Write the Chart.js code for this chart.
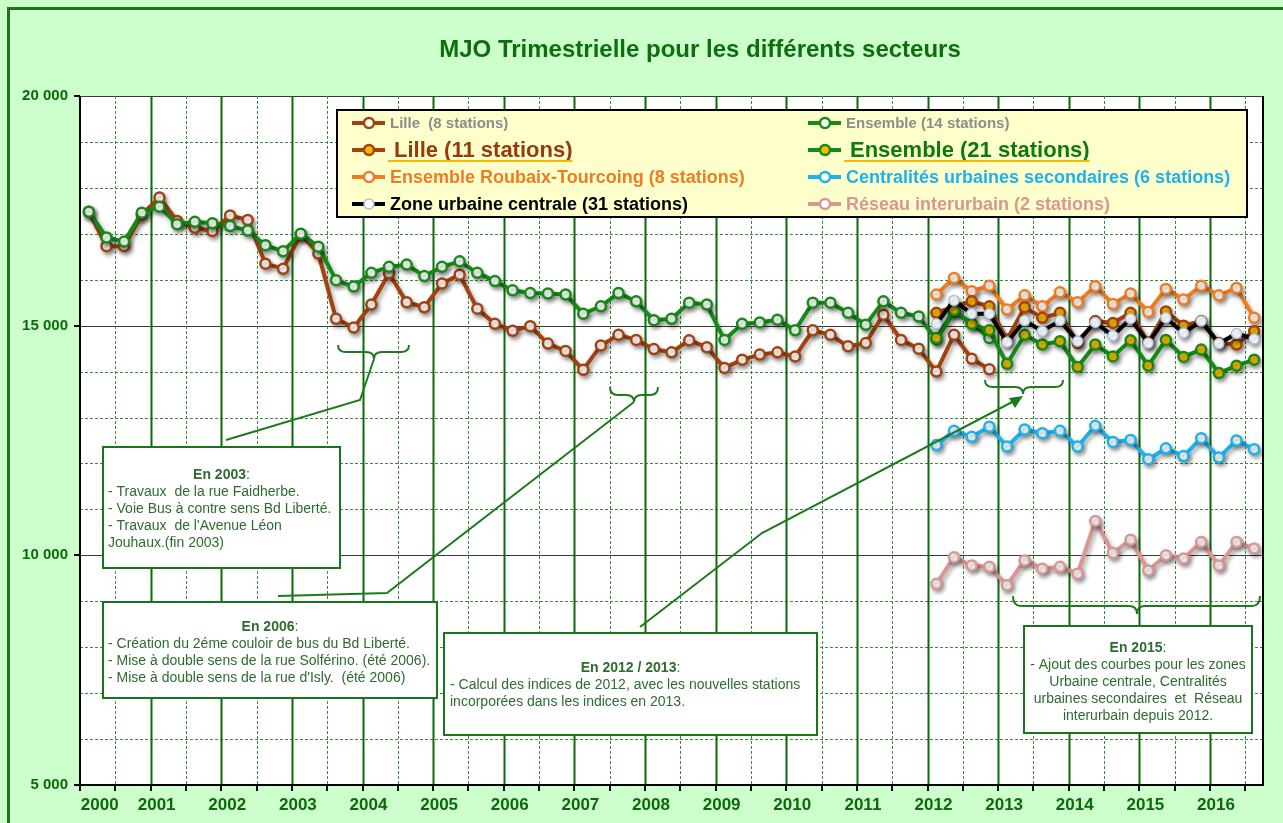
<!DOCTYPE html>
<html>
<head>
<meta charset="utf-8">
<title>MJO Trimestrielle</title>
<script src="https://cdn.jsdelivr.net/npm/chart.js@4.4.1/dist/chart.umd.min.js"></script>
<style>
  html, body { margin: 0; padding: 0; background: #CCFFCC; overflow: hidden; }
  #wrap { width: 1283px; height: 823px; }
</style>
</head>
<body>
<div id="wrap"><canvas id="mjoChart" width="1283" height="823"></canvas></div>
<script>
// quarterly values, first value = T1 of the start year
const yearLabels = [2000, 2001, 2002, 2003, 2004, 2005, 2006, 2007, 2008, 2009, 2010, 2011, 2012, 2013, 2014, 2015, 2016];
const yTickValues = [5000, 10000, 15000, 20000];

const startOld = 2000;
const lille8 = [17480, 16730, 16730, 17420, 17790, 17280, 17130, 17060, 17400, 17300,
                16350, 16240, 16990, 16570, 15150, 14960, 15460, 16140, 15510, 15400,
                15920, 16110, 15370, 15040, 14890, 14990, 14610, 14450, 14040, 14570,
                14800, 14690, 14490, 14420, 14680, 14530, 14080, 14260, 14370, 14420,
                14330, 14900, 14800, 14550, 14620, 15240, 14690, 14500, 14000, 14800,
                14280, 14050];
const ensemble14 = [17480, 16920, 16830, 17460, 17590, 17210, 17260, 17230, 17170, 17070,
                    16750, 16620, 17000, 16720, 15990, 15850, 16150, 16280, 16330, 16080,
                    16280, 16400, 16150, 15970, 15770, 15710, 15700, 15680, 15260, 15420,
                    15710, 15530, 15120, 15150, 15500, 15460, 14690, 15040, 15070, 15130,
                    14900, 15500, 15500, 15280, 15020, 15530, 15280, 15200, 14700, 15300,
                    15050, 14730];

const startNew = 2012;
const lille11 = [15280, 15420, 15530, 15420, 14700, 15400, 15170, 15280, 14620, 15100,
                 15060, 15280, 14640, 15310, 15000, 15100, 14620, 14590, 14880];
const ensemble21 = [14730, 15340, 15040, 14900, 14170, 14800, 14590, 14660, 14100, 14590,
                    14330, 14680, 14130, 14690, 14320, 14480, 13970, 14130, 14260];
const roubaixTourcoing = [15680, 16040, 15750, 15870, 15350, 15660, 15420, 15730, 15510, 15860,
                          15470, 15700, 15300, 15800, 15570, 15870, 15660, 15820, 15170];
const zoneUrbaineCentrale = [15040, 15550, 15260, 15260, 14640, 15110, 14880, 15110, 14660, 15070,
                             14780, 15150, 14620, 15170, 14840, 15100, 14610, 14830, 14710];
const centralites = [12400, 12710, 12580, 12800, 12370, 12740, 12660, 12710, 12370, 12820,
                     12470, 12510, 12090, 12330, 12160, 12550, 12130, 12500, 12310];
const reseauInterurbain = [9380, 9960, 9780, 9750, 9350, 9890, 9710, 9750, 9600, 10750,
                           10050, 10340, 9670, 10000, 9930, 10290, 9780, 10290, 10150];

const FONT = '"Liberation Sans", Arial, sans-serif';
const BROWN = '#A3420E';
const GREEN = '#168A16';
const ORANGE = '#F07C22';
const GOLD = '#F7B800';
const SKY = '#1DB2EC';
const PINK = '#D99694';
const TXT_GREEN = '#2E6B2E';
const FRAME = '#1A741A';

// place each quarter in the middle of its quarter on the year axis
function toPoints(values, startYear) {
    return values.map((v, i) => ({ x: startYear + (i + 0.5) / 4, y: v }));
}

function fmt(v) {
    return String(v).replace(/\B(?=(\d{3})+(?!\d))/g, ' ');
}

function line(label, values, start, color, fill, ring, order, ringWidth) {
    return {
        label: label,
        data: toPoints(values, start),
        borderColor: color,
        borderWidth: 4,
        pointRadius: 5,
        pointBorderWidth: ringWidth || 2.5,
        pointBackgroundColor: fill,
        pointBorderColor: ring,
        pointHoverRadius: 5,
        tension: 0,
        order: order
    };
}

const datasets = [
    line('Lille  (8 stations)', lille8, startOld, BROWN, '#fff', BROWN, 8),
    line('Ensemble (14 stations)', ensemble14, startOld, GREEN, '#fff', GREEN, 7),
    line('Lille (11 stations)', lille11, startNew, BROWN, GOLD, BROWN, 3),
    line('Ensemble (21 stations)', ensemble21, startNew, GREEN, GOLD, GREEN, 2),
    line('Ensemble Roubaix-Tourcoing (8 stations)', roubaixTourcoing, startNew, ORANGE, '#fff', ORANGE, 4),
    line('Centralités urbaines secondaires (6 stations)', centralites, startNew, SKY, '#fff', SKY, 5),
    line('Zone urbaine centrale (31 stations)', zoneUrbaineCentrale, startNew, '#000', '#fff', '#A9C1E0', 1, 1.5),
    line('Réseau interurbain (2 stations)', reseauInterurbain, startNew, PINK, '#fff', PINK, 6)
];

// legend layout: dataset index, column x, row y, font size, text colour, underline
const legendLayout = [
    [0, 352, 123, 15, '#8C8C8C', false],
    [2, 352, 150, 22, '#983B0C', true],
    [4, 352, 177, 18, ORANGE, false],
    [6, 352, 204, 18, '#000', false],
    [1, 808, 123, 15, '#8C8C8C', false],
    [3, 808, 150, 22, '#0E7A0E', true],
    [5, 808, 177, 18, SKY, false],
    [7, 808, 204, 18, PINK, false]
];

const notes = [
    { box: [103, 447, 237, 121], title: 'En 2003', left: 108, top: 475, align: 'left',
      lines: ['- Travaux  de la rue Faidherbe.', '- Voie Bus à contre sens Bd Liberté.', '- Travaux  de l\'Avenue Léon', 'Jouhaux.(fin 2003)'] },
    { box: [103, 602, 334, 96], title: 'En 2006', left: 108, top: 627, align: 'left',
      lines: ['- Création du 2éme couloir de bus du Bd Liberté.', '- Mise à double sens de la rue Solférino. (été 2006).', '- Mise à double sens de la rue d\'Isly.  (été 2006)'] },
    { box: [444, 633, 373, 102], title: 'En 2012 / 2013', left: 450, top: 668, align: 'left',
      lines: ['- Calcul des indices de 2012, avec les nouvelles stations', 'incorporées dans les indices en 2013.'] },
    { box: [1024, 626, 228, 107], title: 'En 2015', left: 1030, top: 648, align: 'center',
      lines: ['- Ajout des courbes pour les zones', 'Urbaine centrale, Centralités', 'urbaines secondaires  et  Réseau', 'interurbain depuis 2012.'] }
];

function brace(ctx, x1, x2, yTop, yMid, yTip, xm) {
    const r = 8;
    ctx.beginPath();
    ctx.moveTo(x1, yTop);
    ctx.quadraticCurveTo(x1, yMid, x1 + r, yMid);
    ctx.lineTo(xm - r, yMid);
    ctx.quadraticCurveTo(xm, yMid, xm, yTip);
    ctx.quadraticCurveTo(xm, yMid, xm + r, yMid);
    ctx.lineTo(x2 - r, yMid);
    ctx.quadraticCurveTo(x2, yMid, x2, yTop);
    ctx.stroke();
}

function polyline(ctx, pts) {
    ctx.beginPath();
    ctx.moveTo(pts[0][0], pts[0][1]);
    for (let i = 1; i < pts.length; i++) ctx.lineTo(pts[i][0], pts[i][1]);
    ctx.stroke();
}

const decor = {
    id: 'decor',
    beforeDraw(chart) {
        const { ctx, chartArea: a } = chart;
        ctx.save();
        ctx.fillStyle = '#CCFFCC';
        ctx.fillRect(0, 0, chart.width, chart.height);
        ctx.fillStyle = '#fff';
        ctx.fillRect(a.left, a.top, a.right - a.left, a.bottom - a.top);
        ctx.strokeStyle = FRAME;
        ctx.lineWidth = 3;
        ctx.strokeRect(8.5, 8.5, chart.width + 20, chart.height + 20);
        ctx.restore();
    },
    beforeDatasetsDraw(chart) {
        const { ctx, chartArea: a, scales: { x, y } } = chart;
        ctx.save();
        // horizontal grid every 1000
        for (let v = 6000; v <= 20000; v += 1000) {
            const py = Math.round(y.getPixelForValue(v)) + 0.5;
            ctx.beginPath();
            if (v % 5000 === 0) {
                ctx.setLineDash([]);
                ctx.strokeStyle = '#3A3A3A';
                ctx.lineWidth = 1.2;
            } else {
                ctx.setLineDash([3, 2]);
                ctx.strokeStyle = '#3D8B3D';
                ctx.lineWidth = 1;
            }
            ctx.moveTo(a.left, py);
            ctx.lineTo(a.right, py);
            ctx.stroke();
        }
        // vertical grid every half year
        for (let t = 2000.5; t < 2016.75; t += 0.5) {
            const px = Math.round(x.getPixelForValue(t)) + 0.5;
            ctx.beginPath();
            if (t % 1 === 0) {
                ctx.setLineDash([]);
                ctx.strokeStyle = '#0B6B0B';
                ctx.lineWidth = 2;
            } else {
                ctx.setLineDash([3, 2]);
                ctx.strokeStyle = '#3D8B3D';
                ctx.lineWidth = 1;
            }
            ctx.moveTo(px, a.top);
            ctx.lineTo(px, a.bottom);
            ctx.stroke();
        }
        ctx.setLineDash([]);
        ctx.strokeStyle = '#000';
        ctx.lineWidth = 2;
        // tick marks
        for (let t = 2000; t <= 2016.5; t += 0.5) {
            const px = Math.round(x.getPixelForValue(t));
            ctx.beginPath();
            ctx.moveTo(px, a.bottom);
            ctx.lineTo(px, a.bottom + 6);
            ctx.stroke();
        }
        yTickValues.forEach(v => {
            const py = Math.round(y.getPixelForValue(v));
            ctx.beginPath();
            ctx.moveTo(a.left - 6, py);
            ctx.lineTo(a.left, py);
            ctx.stroke();
        });
        ctx.restore();
    },
    beforeDatasetDraw(chart) {
        const ctx = chart.ctx;
        ctx.save();
        ctx.shadowColor = 'rgba(0,0,0,0.35)';
        ctx.shadowBlur = 4;
        ctx.shadowOffsetX = 2;
        ctx.shadowOffsetY = 3;
    },
    afterDatasetDraw(chart) {
        chart.ctx.restore();
    },
    afterDraw(chart) {
        const { ctx, chartArea: a } = chart;
        ctx.save();
        // plot frame
        ctx.strokeStyle = '#000';
        ctx.lineWidth = 2;
        ctx.beginPath();
        ctx.moveTo(a.left, a.top);
        ctx.lineTo(a.left, a.bottom);
        ctx.lineTo(a.right, a.bottom);
        ctx.lineTo(a.right, a.top);
        ctx.stroke();

        // title
        ctx.fillStyle = '#0E6E0E';
        ctx.font = 'bold 24px ' + FONT;
        ctx.textAlign = 'center';
        ctx.textBaseline = 'middle';
        ctx.fillText('MJO Trimestrielle pour les différents secteurs', 700, 50);

        // legend
        ctx.fillStyle = '#FFFFCC';
        ctx.fillRect(337, 110, 910, 107);
        ctx.strokeStyle = '#000';
        ctx.lineWidth = 2;
        ctx.strokeRect(337, 110, 910, 107);
        ctx.textAlign = 'left';
        legendLayout.forEach(([di, lx, ly, size, color, underline]) => {
            const ds = chart.data.datasets[di];
            ctx.strokeStyle = ds.borderColor;
            ctx.lineWidth = 4;
            ctx.beginPath();
            ctx.moveTo(lx, ly);
            ctx.lineTo(lx + 33, ly);
            ctx.stroke();
            ctx.beginPath();
            ctx.arc(lx + 17, ly, 5, 0, Math.PI * 2);
            ctx.fillStyle = ds.pointBackgroundColor;
            ctx.fill();
            ctx.lineWidth = ds.pointBorderWidth;
            ctx.strokeStyle = ds.pointBorderColor;
            ctx.stroke();
            ctx.font = 'bold ' + size + 'px ' + FONT;
            ctx.fillStyle = color;
            const tx = lx + (underline ? 42 : 38);
            ctx.fillText(ds.label, tx, ly + 1);
            if (underline) {
                const w = ctx.measureText(ds.label).width;
                ctx.strokeStyle = GOLD;
                ctx.lineWidth = 2;
                ctx.beginPath();
                ctx.moveTo(tx - 6, ly + 11);
                ctx.lineTo(tx + w, ly + 11);
                ctx.stroke();
            }
        });

        // braces and leader lines
        ctx.strokeStyle = '#1E7A1E';
        ctx.lineWidth = 2;
        brace(ctx, 338, 409, 345, 352, 359, 374);
        polyline(ctx, [[374, 359], [360, 400], [226, 440]]);
        brace(ctx, 610, 658, 387, 395, 402, 634);
        polyline(ctx, [[634, 402], [387, 593], [278, 596]]);
        brace(ctx, 985, 1063, 380, 387, 394, 1023);
        polyline(ctx, [[640, 627], [762, 533], [1016, 400]]);
        // arrow head
        ctx.fillStyle = '#1E7A1E';
        ctx.beginPath();
        ctx.moveTo(1023, 396);
        ctx.lineTo(1009, 398);
        ctx.lineTo(1015, 408);
        ctx.closePath();
        ctx.fill();
        brace(ctx, 1013, 1260, 596, 606, 614, 1137);

        // note boxes
        notes.forEach(n => {
            const [bx, by, bw, bh] = n.box;
            ctx.fillStyle = '#fff';
            ctx.fillRect(bx, by, bw, bh);
            ctx.strokeStyle = FRAME;
            ctx.lineWidth = 2;
            ctx.strokeRect(bx, by, bw, bh);
            const cx = bx + bw / 2;
            ctx.fillStyle = TXT_GREEN;
            ctx.textBaseline = 'middle';
            ctx.font = 'bold 14px ' + FONT;
            const tw = ctx.measureText(n.title).width;
            ctx.font = '14px ' + FONT;
            const cw = ctx.measureText(':').width;
            ctx.textAlign = 'left';
            ctx.font = 'bold 14px ' + FONT;
            ctx.fillText(n.title, cx - (tw + cw) / 2, n.top);
            ctx.font = '14px ' + FONT;
            ctx.fillText(':', cx - (tw + cw) / 2 + tw, n.top);
            n.lines.forEach((t, i) => {
                const ty = n.top + 17 * (i + 1);
                if (n.align === 'center') {
                    ctx.textAlign = 'center';
                    ctx.fillText(t, cx, ty);
                } else {
                    ctx.textAlign = 'left';
                    ctx.fillText(t, n.left, ty);
                }
            });
        });
        ctx.restore();
    }
};

const ctx = document.getElementById('mjoChart').getContext('2d');
const mjoChart = new Chart(ctx, {
    type: 'line',
    data: { datasets: datasets },
    options: {
        responsive: false,
        animation: false,
        events: [],
        layout: { padding: { top: 96, right: 20, left: 0, bottom: 0 } },
        plugins: {
            legend: { display: false },
            title: { display: false },
            tooltip: { enabled: false }
        },
        scales: {
            x: {
                type: 'linear',
                min: 2000,
                max: 2016.75,
                // labels sit just right of each year line; the first one is pushed clear of the axis
                afterBuildTicks: (scale) => {
                    scale.ticks = yearLabels.map((yr, i) => ({ value: yr + (i === 0 ? 0.28 : 0.085) }));
                },
                afterFit: (scale) => { scale.height = 38; },
                ticks: {
                    autoSkip: false,
                    maxRotation: 0,
                    padding: 10,
                    color: '#0A6A0A',
                    font: { family: FONT, size: 17, weight: 'bold' },
                    callback: (v) => String(Math.floor(v))
                },
                grid: { drawOnChartArea: false, drawTicks: false },
                border: { display: false }
            },
            y: {
                type: 'linear',
                min: 5000,
                max: 20000,
                afterBuildTicks: (scale) => {
                    scale.ticks = yTickValues.map(v => ({ value: v }));
                },
                afterFit: (scale) => { scale.width = 80; },
                ticks: {
                    padding: 12,
                    color: '#0A6A0A',
                    font: { family: FONT, size: 15, weight: 'bold' },
                    callback: (v) => fmt(v)
                },
                grid: { drawOnChartArea: false, drawTicks: false },
                border: { display: false }
            }
        }
    },
    plugins: [decor]
});
</script>
</body>
</html>
